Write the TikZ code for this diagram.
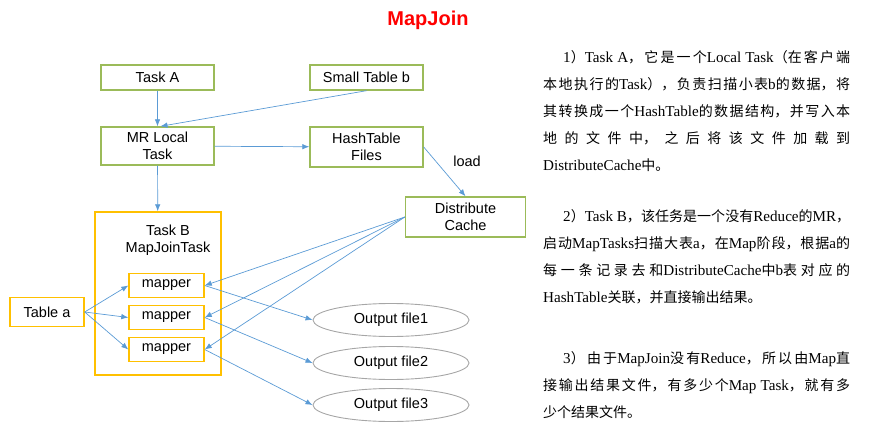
\documentclass[tikz,border=0pt]{standalone}
\usepackage{fontspec}
\setmainfont{Liberation Sans}
\newfontfamily\cjk{Noto Sans CJK SC}
\newfontfamily\enserif[Scale=1.08]{Liberation Serif}
\usetikzlibrary{arrows.meta,shapes.geometric}
\definecolor{boxgreen}{RGB}{155,187,89}
\definecolor{boxyellow}{RGB}{255,192,0}
\definecolor{linkblue}{RGB}{91,155,213}
\definecolor{filegray}{RGB}{166,166,166}
\XeTeXlinebreaklocale "zh"
\XeTeXlinebreakskip=0pt plus 10pt
\newcommand{\enw}[1]{{\enserif #1}}
\newcommand{\diafont}{\fontsize{14.5pt}{17pt}\selectfont}
\newcommand{\notefont}{\fontsize{14pt}{27pt}\selectfont\cjk}
\begin{document}
\begin{tikzpicture}[x=1pt,y=-1pt,
  greenbox/.style={draw=boxgreen, line width=1.4pt, minimum width=113pt, minimum height=25pt, inner sep=0pt, align=center, font=\diafont},
  yellowbox/.style={draw=boxyellow, line width=1.4pt, inner sep=0pt, align=center, font=\diafont},
  outfile/.style={ellipse, draw=filegray, line width=0.9pt, minimum width=156pt, minimum height=33pt, inner sep=0pt, font=\diafont},
  flow/.style={draw=linkblue, line width=0.7pt, -{Latex[length=7pt,width=5.5pt]}},
  note/.style={anchor=base west, text width=307pt, align=justify, inner sep=0pt, font=\notefont}]
\useasboundingbox (0,0) rectangle (872,425);
\node[font=\fontsize{20pt}{24pt}\selectfont\bfseries, text=red] (title) at (428,20) {MapJoin};
% first stage
\node[greenbox] (taska) at (157.5,77.5) {Task A};
\node[greenbox] (smallb) at (366.5,77.5) {Small Table b};
\node[greenbox, minimum height=38pt] (mrlocal) at (157.5,146) {MR Local\\Task};
\node[greenbox, minimum height=40pt] (hashfiles) at (366.5,147) {HashTable\\Files};
\node[greenbox, minimum width=120pt, minimum height=40pt] (dcache) at (465.5,217) {Distribute\\Cache};
\node[font=\diafont] (loadlbl) at (467,161) {load};
% second stage
\node[yellowbox, minimum width=126pt, minimum height=163pt] (taskb) at (158,293.5) {};
\node[font=\diafont, align=center] (taskbname) at (168,240) {Task B\\MapJoinTask};
\node[yellowbox, minimum width=75pt, minimum height=23.5pt] (map1) at (166.5,285.5) {mapper};
\node[yellowbox, minimum width=75pt, minimum height=23.5pt] (map2) at (166.5,317.5) {mapper};
\node[yellowbox, minimum width=75pt, minimum height=23.5pt] (map3) at (166.5,349.5) {mapper};
\node[yellowbox, minimum width=74pt, minimum height=29pt] (tablea) at (47,312) {Table a};
\node[outfile] (out1) at (391,320) {Output file1};
\node[outfile] (out2) at (391,363) {Output file2};
\node[outfile] (out3) at (391,405) {Output file3};
\draw[flow] (taska) -- (mrlocal);
\draw[flow] (smallb.south) -- ([xshift=3pt]mrlocal.north);
\draw[flow] (mrlocal) -- (hashfiles);
\draw[flow] (mrlocal) -- (taskb);
\draw[flow] (hashfiles.east) -- (dcache.north);
\foreach \i in {1,2,3} {
  \draw[flow] (dcache.west) -- (map\i.east);
  \draw[flow] (tablea.east) -- (map\i.west);
  \draw[flow] (map\i.east) -- (out\i.west);
}
% notes
\node[note] (note1) at (543,63) {\tolerance=10000\hspace*{20pt}\enw{1}）\enw{Task A}，它是一个\enw{Local Task}（在客户端\linebreak
本地执行的\enw{Task}），负责扫描小表\enw{b}的数据，将\linebreak
其转换成一个\enw{HashTable}的数据结构，并写入本\linebreak
地的文件中，之后将该文件加载到\linebreak
\enw{DistributeCache}中。};
\node[note] (note2) at (543,221) {\tolerance=10000\hspace*{20pt}\enw{2}）\enw{Task B}，该任务是一个没有\enw{Reduce}的\enw{MR}，\linebreak
启动\enw{MapTasks}扫描大表\enw{a}，在\enw{Map}阶段，根据\enw{a}的\linebreak
每一条记录去和\enw{DistributeCache}中\enw{b}表对应的\linebreak
\enw{HashTable}关联，并直接输出结果。};
\node[note] (note3) at (543,363) {\tolerance=10000\hspace*{20pt}\enw{3}）由于\enw{MapJoin}没有\enw{Reduce}，所以由\enw{Map}直\linebreak
接输出结果文件，有多少个\enw{Map Task}，就有多\linebreak
少个结果文件。};
\end{tikzpicture}
\end{document}
